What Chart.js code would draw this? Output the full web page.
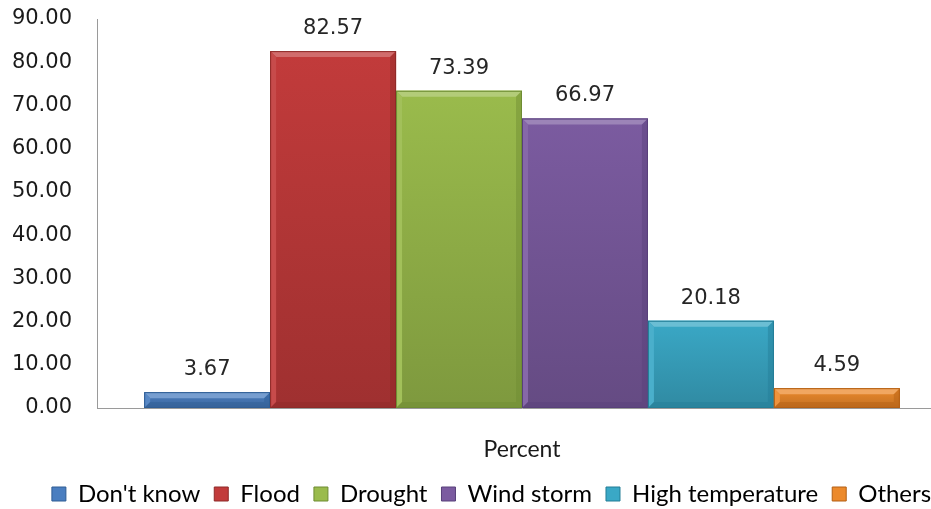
<!DOCTYPE html>
<html>
<head>
<meta charset="utf-8">
<script src="https://cdn.jsdelivr.net/npm/chart.js@4"></script>
<style>
  html, body { margin: 0; padding: 0; background: #fff; overflow: hidden; }
  #wrap { width: 994px; height: 516px; position: relative; }
</style>
</head>
<body>
<div id="wrap"><canvas id="myChart"></canvas></div>
<script>
const categorias = ['Percent'];
const series = ["Don't know", 'Flood', 'Drought', 'Wind storm', 'High temperature', 'Others'];
const valores = [3.67, 82.57, 73.39, 66.97, 20.18, 4.59];
const colores = ['#4a7ec0', '#c23b3b', '#9abb4c', '#7b5ba0', '#3aa8c6', '#ec8a2c'];
const bordes = ['#2f5d94', '#8e2a28', '#6e8c33', '#58407a', '#237d96', '#b35f14'];

function mezclar(hex, f, hacia) {
    const n = parseInt(hex.slice(1), 16);
    const r = (n >> 16) & 255, g = (n >> 8) & 255, b = n & 255;
    const m = c => Math.round(c + (hacia - c) * f);
    return 'rgb(' + m(r) + ',' + m(g) + ',' + m(b) + ')';
}

// shaded face and bevel edges on each bar, taken from the bar elements
const bisel = {
    id: 'bisel',
    afterDatasetsDraw(chart) {
        const ctx = chart.ctx;
        chart.data.datasets.forEach((ds, i) => {
            chart.getDatasetMeta(i).data.forEach(bar => {
                const l = bar.x - bar.width / 2, r = bar.x + bar.width / 2;
                const t = bar.y, b = bar.base;
                const s = Math.min(6, (b - t) / 2);
                ctx.save();
                const grad = ctx.createLinearGradient(0, t, 0, b);
                grad.addColorStop(0, colores[i]);
                grad.addColorStop(1, mezclar(colores[i], 0.18, 0));
                ctx.fillStyle = grad;
                ctx.fillRect(l, t, r - l, b - t);
                ctx.fillStyle = mezclar(colores[i], 0.25, 255);
                ctx.beginPath();
                ctx.moveTo(l, t); ctx.lineTo(r, t); ctx.lineTo(r - s, t + s); ctx.lineTo(l + s, t + s);
                ctx.closePath(); ctx.fill();
                ctx.fillStyle = mezclar(colores[i], 0.08, 255);
                ctx.beginPath();
                ctx.moveTo(l, t); ctx.lineTo(l + s, t + s); ctx.lineTo(l + s, b - s); ctx.lineTo(l, b);
                ctx.closePath(); ctx.fill();
                ctx.fillStyle = bordes[i];
                ctx.globalAlpha = 0.45;
                ctx.beginPath();
                ctx.moveTo(r, t); ctx.lineTo(r, b); ctx.lineTo(r - s, b - s); ctx.lineTo(r - s, t + s);
                ctx.closePath(); ctx.fill();
                ctx.beginPath();
                ctx.moveTo(l, b); ctx.lineTo(r, b); ctx.lineTo(r - s, b - s); ctx.lineTo(l + s, b - s);
                ctx.closePath(); ctx.fill();
                ctx.restore();
                ctx.save();
                ctx.strokeStyle = bordes[i];
                ctx.lineWidth = 1;
                ctx.strokeRect(l + 0.5, t + 0.5, r - l - 1, b - t - 1);
                ctx.restore();
            });
        });
    }
};

const etiquetas = {
    id: 'etiquetas',
    afterDatasetsDraw(chart) {
        const ctx = chart.ctx;
        ctx.save();
        ctx.font = '21px "DejaVu Sans"';
        ctx.fillStyle = '#262626';
        ctx.textAlign = 'center';
        ctx.textBaseline = 'bottom';
        chart.data.datasets.forEach((ds, i) => {
            chart.getDatasetMeta(i).data.forEach((bar, j) => {
                ctx.fillText(ds.data[j].toFixed(2), bar.x, bar.y - 12);
            });
        });
        ctx.restore();
    }
};

// the y axis box is narrowed so the legend sits where it should; let its labels use the left margin
const margenY = {
    id: 'margenY',
    afterLayout(chart) {
        chart.scales.y.left = 0;
    }
};

const ctx = document.getElementById('myChart').getContext('2d');
new Chart(ctx, {
    type: 'bar',
    data: {
        labels: categorias,
        datasets: series.map((nombre, i) => ({
            label: nombre,
            data: [valores[i]],
            backgroundColor: colores[i],
            borderColor: bordes[i],
            borderWidth: 0,
            barPercentage: 1,
            categoryPercentage: 0.889
        }))
    },
    options: {
        responsive: true,
        maintainAspectRatio: false,
        animation: false,
        layout: { padding: { top: 19, right: 47, left: 36, bottom: 0 } },
        plugins: {
            tooltip: { enabled: false },
            legend: {
                position: 'bottom',
                labels: {
                    font: { family: 'Lato', size: 24 },
                    color: '#1a1a1a',
                    boxWidth: 14,
                    boxHeight: 14,
                    padding: 14,
                    generateLabels(chart) {
                        return chart.data.datasets.map((ds, i) => ({
                            text: ds.label,
                            fillStyle: colores[i],
                            strokeStyle: bordes[i],
                            lineWidth: 1,
                            datasetIndex: i
                        }));
                    }
                }
            }
        },
        scales: {
            x: {
                grid: { display: false, drawTicks: false },
                border: { display: true, color: '#9a9a9a', width: 1 },
                ticks: { font: { family: 'Lato', size: 23 }, color: '#1a1a1a', padding: 28 },
                afterFit(scale) { scale.height = 60; }
            },
            y: {
                min: 0,
                max: 90,
                grid: { display: false, drawTicks: false },
                border: { display: true, color: '#9a9a9a', width: 1 },
                ticks: {
                    stepSize: 10,
                    padding: 25,
                    font: { family: 'DejaVu Sans', size: 21 },
                    color: '#1a1a1a',
                    callback: v => v.toFixed(2)
                },
                afterFit(scale) {
                    scale.width = 61;
                    scale.paddingTop = 0;
                    scale.paddingBottom = 0;
                }
            }
        }
    },
    plugins: [bisel, etiquetas, margenY]
});
</script>
</body>
</html>
